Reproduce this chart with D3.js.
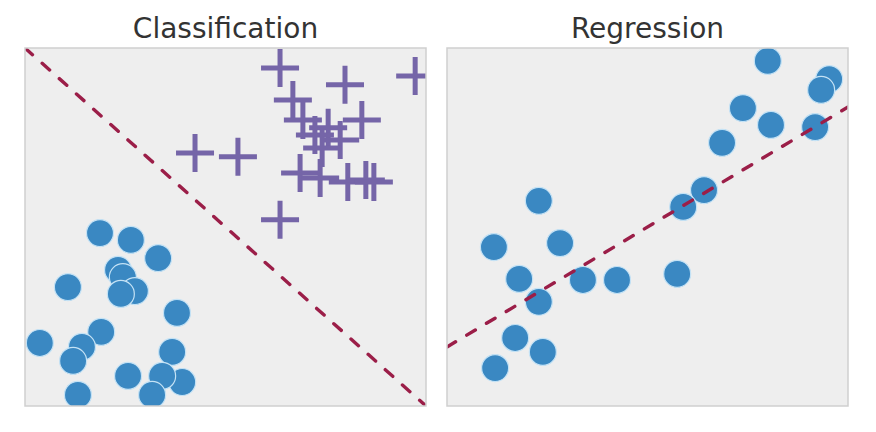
<!DOCTYPE html>
<html>
<head>
<meta charset="utf-8">
<script src="https://cdn.jsdelivr.net/npm/d3@7"></script>
<style>
  html, body { margin: 0; padding: 0; background: #ffffff; }
  svg { display: block; }
</style>
</head>
<body>
<svg id="chart" width="876" height="432"></svg>
<script>
// ---- Data ----
const panelTitles = ["Classification", "Regression"];

// Classification: class A (circles)
const classAX = [1.87, 2.64, 3.32, 1.07, 2.32, 2.44, 2.74, 2.39, 3.79, 1.90, 0.37, 1.42, 1.20, 3.67, 3.92, 2.57, 3.42, 1.32, 3.17];
const classAY = [4.83, 4.64, 4.13, 3.32, 3.80, 3.60, 3.21, 3.13, 2.60, 2.07, 1.76, 1.65, 1.26, 1.51, 0.67, 0.84, 0.84, 0.31, 0.31];

// Classification: class B (plus markers)
const classBX = [6.36, 7.98, 9.73, 6.68, 6.93, 8.40, 7.56, 7.23, 7.86, 7.41, 6.86, 7.36, 8.05, 8.50, 8.70, 4.24, 5.31, 6.36];
const classBY = [9.44, 8.97, 9.22, 8.55, 7.99, 7.99, 7.77, 7.57, 7.43, 7.21, 6.51, 6.37, 6.26, 6.31, 6.26, 7.07, 6.96, 5.20];

// Decision boundary (classification)
const boundaryX = [0, 10];
const boundaryY = [10, 0];

// Regression points
const regX = [8.00, 9.53, 9.33, 7.38, 8.08, 9.18, 6.86, 6.41, 5.89, 2.29, 1.17, 2.82, 1.80, 3.39, 4.24, 5.74, 2.29, 1.70, 2.39, 1.20];
const regY = [9.64, 9.13, 8.83, 8.32, 7.85, 7.79, 7.35, 6.03, 5.56, 5.73, 4.44, 4.55, 3.55, 3.52, 3.52, 3.69, 2.91, 1.90, 1.51, 1.06];

// Regression fit line
const fitX = [0, 10];
const fitY = [1.65, 8.35];

// ---- Styles ----
const bg = "#eeeeee";
const frameColor = "#cfcfcf";
const blue = "#3a88c2";
const blueEdge = "#c4e2f5";
const purple = "#7565a8";
const red = "#9b1e48";

const svg = d3.select("#chart");

const panels = [
  { left: 25, right: 426, top: 48, bottom: 406 },
  { left: 447, right: 848, top: 48, bottom: 406 }
];

function makePanel(i) {
  const p = panels[i];
  const x = d3.scaleLinear().domain([0, 10]).range([p.left, p.right]);
  const y = d3.scaleLinear().domain([0, 10]).range([p.bottom, p.top]);
  const g = svg.append("g");
  g.append("rect")
    .attr("x", p.left).attr("y", p.top)
    .attr("width", p.right - p.left).attr("height", p.bottom - p.top)
    .attr("fill", bg);
  const clipId = "clip" + i;
  svg.append("defs").append("clipPath").attr("id", clipId)
    .append("rect")
    .attr("x", p.left).attr("y", p.top)
    .attr("width", p.right - p.left).attr("height", p.bottom - p.top);
  const inner = g.append("g").attr("clip-path", `url(#${clipId})`);
  g.append("text")
    .attr("x", (p.left + p.right) / 2)
    .attr("y", 38)
    .attr("text-anchor", "middle")
    .attr("font-family", "DejaVu Sans, sans-serif")
    .attr("font-size", 28)
    .attr("fill", "#333333")
    .text(panelTitles[i]);
  return { g, inner, x, y, p };
}

function frame(panel) {
  const p = panel.p;
  panel.g.append("rect")
    .attr("x", p.left).attr("y", p.top)
    .attr("width", p.right - p.left).attr("height", p.bottom - p.top)
    .attr("fill", "none")
    .attr("stroke", frameColor)
    .attr("stroke-width", 1.5);
}

// ---- Classification ----
const c = makePanel(0);
const circA = d3.range(classAX.length).map(i => ({ x: classAX[i], y: classAY[i] }));
c.inner.selectAll("circle.a").data(circA).join("circle")
  .attr("class", "a")
  .attr("cx", d => c.x(d.x)).attr("cy", d => c.y(d.y))
  .attr("r", 13.5)
  .attr("fill", blue)
  .attr("stroke", blueEdge).attr("stroke-width", 1.2);

const plusB = d3.range(classBX.length).map(i => ({ x: classBX[i], y: classBY[i] }));
const arm = 19;
c.inner.selectAll("path.b").data(plusB).join("path")
  .attr("class", "b")
  .attr("d", d => {
    const cx = c.x(d.x), cy = c.y(d.y);
    return `M${cx - arm},${cy}H${cx + arm}M${cx},${cy - arm}V${cy + arm}`;
  })
  .attr("fill", "none")
  .attr("stroke", purple)
  .attr("stroke-width", 5);

const line = d3.line();
c.inner.append("path")
  .attr("d", line(boundaryX.map((v, i) => [c.x(v), c.y(boundaryY[i])])))
  .attr("fill", "none")
  .attr("stroke", red)
  .attr("stroke-width", 3.4)
  .attr("stroke-dasharray", "10,13")
  .attr("stroke-linecap", "round");
frame(c);

// ---- Regression ----
const r = makePanel(1);
const regPts = d3.range(regX.length).map(i => ({ x: regX[i], y: regY[i] }));
r.inner.selectAll("circle.r").data(regPts).join("circle")
  .attr("class", "r")
  .attr("cx", d => r.x(d.x)).attr("cy", d => r.y(d.y))
  .attr("r", 13.5)
  .attr("fill", blue)
  .attr("stroke", blueEdge).attr("stroke-width", 1.2);

r.inner.append("path")
  .attr("d", line(fitX.map((v, i) => [r.x(v), r.y(fitY[i])])))
  .attr("fill", "none")
  .attr("stroke", red)
  .attr("stroke-width", 3.4)
  .attr("stroke-dasharray", "10,13")
  .attr("stroke-linecap", "round");
frame(r);
</script>
</body>
</html>
